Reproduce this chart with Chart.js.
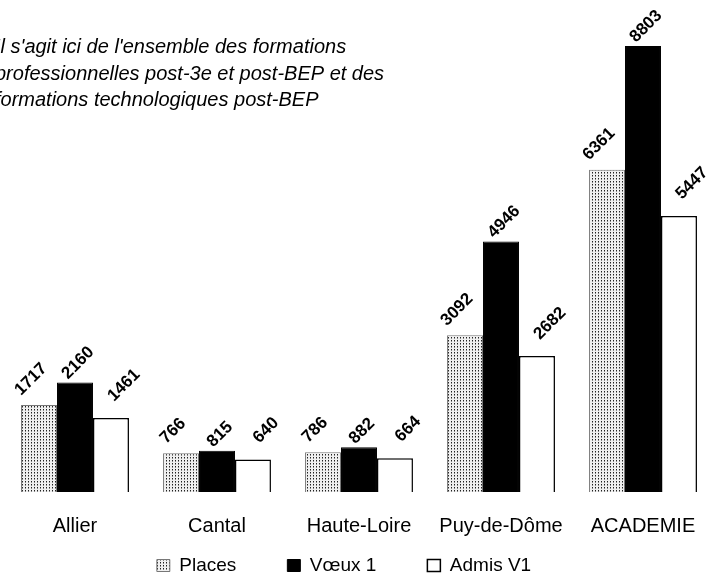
<!DOCTYPE html>
<html>
<head>
<meta charset="utf-8">
<script src="https://cdn.jsdelivr.net/npm/chart.js@4/dist/chart.umd.min.js"></script>
<style>
  body { margin: 0; background: #fff; }
</style>
</head>
<body>
<canvas id="graphique" width="714" height="577"></canvas>
<script>
const categories = ['Allier', 'Cantal', 'Haute-Loire', 'Puy-de-Dôme', 'ACADEMIE'];
const places = [1717, 766, 786, 3092, 6361];
const voeux1 = [2160, 815, 882, 4946, 8803];
const admisV1 = [1461, 640, 664, 2682, 5447];
const noteLines = [
    "Il s'agit ici de l'ensemble des formations",
    "professionnelles post-3e et post-BEP et des",
    "formations technologiques post-BEP"
];

const police = "'Liberation Sans', Arial, sans-serif";

// motif pointillé pour la série "Places"
function motifPoints() {
    const c = document.createElement('canvas');
    c.width = 3;
    c.height = 3;
    const p = c.getContext('2d');
    p.fillStyle = '#f0f0f0';
    p.fillRect(0, 0, 3, 3);
    p.fillStyle = '#222';
    p.fillRect(1, 1, 1, 1);
    p.fillStyle = '#888';
    p.fillRect(1, 2, 1, 1);
    return p.createPattern(c, 'repeat');
}

// étiquettes de valeur inclinées à 45°
const etiquettes = {
    id: 'etiquettes',
    afterDatasetsDraw(chart) {
        const ctx = chart.ctx;
        ctx.save();
        ctx.font = 'bold 17px ' + police;
        ctx.fillStyle = '#000';
        ctx.textAlign = 'center';
        ctx.textBaseline = 'middle';
        chart.data.datasets.forEach((ds, i) => {
            const meta = chart.getDatasetMeta(i);
            meta.data.forEach((bar, j) => {
                const txt = String(ds.data[j]);
                const w = ctx.measureText(txt).width;
                const h = (w + 12) * Math.SQRT1_2;
                const cx = bar.x + ds.decalage;
                const cy = bar.y - ds.ecart - h / 2;
                ctx.save();
                ctx.translate(cx, cy);
                ctx.rotate(-Math.PI / 4);
                ctx.fillText(txt, 0, 0);
                ctx.restore();
            });
        });
        ctx.restore();
    }
};

// note en italique en haut à gauche
const note = {
    id: 'note',
    afterDraw(chart) {
        const ctx = chart.ctx;
        ctx.save();
        ctx.font = 'italic 20px ' + police;
        ctx.fillStyle = '#000';
        ctx.textAlign = 'left';
        ctx.textBaseline = 'alphabetic';
        noteLines.forEach((l, i) => ctx.fillText(l, -5, 53 + i * 26.5));
        ctx.restore();
    }
};

// la légende d'Excel est un peu plus à gauche et plus haut
const placeLegende = {
    id: 'placeLegende',
    afterLayout(chart) {
        const leg = chart.legend;
        leg.left -= 15;
        leg.right -= 15;
        leg.top -= 37;
    }
};

const ctx = document.getElementById('graphique').getContext('2d');
new Chart(ctx, {
    type: 'bar',
    data: {
        labels: categories,
        datasets: [{
            label: 'Places',
            data: places,
            backgroundColor: motifPoints(),
            borderColor: '#777',
            borderWidth: 1,
            decalage: -8,
            ecart: 8
        }, {
            label: 'Vœux 1',
            data: voeux1,
            backgroundColor: '#000',
            borderColor: '#000',
            borderWidth: 1,
            decalage: 3,
            ecart: 2
        }, {
            label: 'Admis V1',
            data: admisV1,
            backgroundColor: '#fff',
            borderColor: '#000',
            borderWidth: 1.5,
            decalage: 13,
            ecart: 15
        }]
    },
    options: {
        responsive: false,
        animation: false,
        layout: {
            padding: { top: 36, left: 4, right: 0, bottom: 0 }
        },
        datasets: {
            bar: {
                categoryPercentage: 0.76,
                barPercentage: 1
            }
        },
        scales: {
            x: {
                grid: { display: false },
                border: { display: false },
                ticks: {
                    color: '#000',
                    padding: 14,
                    font: { size: 20, family: police }
                },
                afterFit(scale) {
                    scale.height = 50;
                }
            },
            y: {
                display: false,
                min: 0,
                max: 9000
            }
        },
        plugins: {
            legend: {
                position: 'bottom',
                onClick: null,
                maxHeight: 35,
                labels: {
                    color: '#000',
                    boxWidth: 13,
                    boxHeight: 12,
                    padding: 51,
                    font: { size: 19, family: police }
                }
            },
            tooltip: { enabled: false }
        }
    },
    plugins: [etiquettes, note, placeLegende]
});
</script>
</body>
</html>
